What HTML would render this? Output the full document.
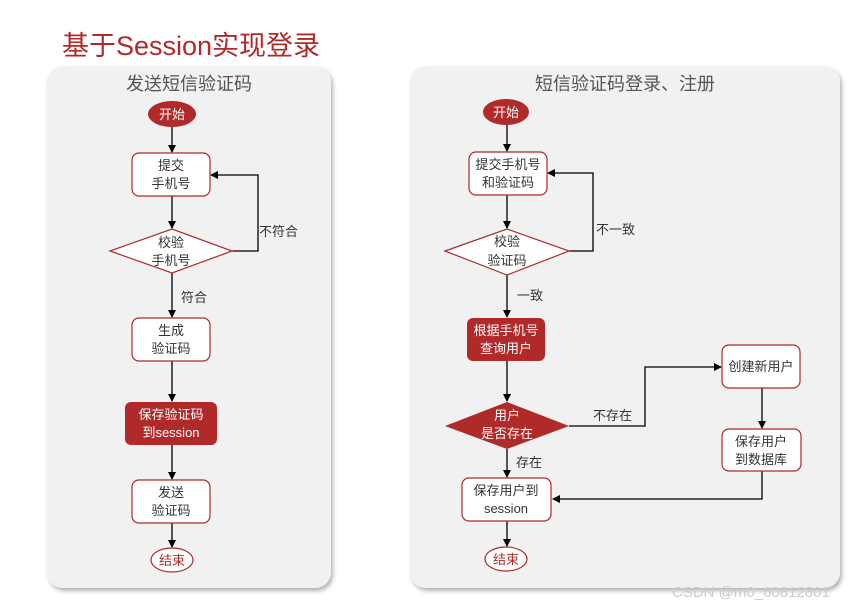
<!DOCTYPE html>
<html><head><meta charset="utf-8"><style>
html,body{margin:0;padding:0;background:#fff;width:852px;height:606px;overflow:hidden}
svg text{font-family:"Liberation Sans","Noto Sans CJK SC",sans-serif}
</style></head><body>
<svg width="852" height="606" viewBox="0 0 852 606" xmlns="http://www.w3.org/2000/svg">
<defs>
<marker id="a" markerWidth="8" markerHeight="8" refX="7" refY="4" orient="auto" markerUnits="userSpaceOnUse"><path d="M0,0 L8,4 L0,8 z" fill="#000"/></marker>
<filter id="sh" x="-5%" y="-5%" width="110%" height="110%"><feDropShadow dx="2" dy="3" stdDeviation="2" flood-color="#000" flood-opacity="0.3"/></filter>
</defs>
<text x="62" y="55" font-size="27" fill="#b02a2a">基于Session实现登录</text>
<rect x="47" y="66" width="284" height="522" rx="16" fill="#f1f1f1" filter="url(#sh)"/>
<rect x="410" y="66" width="430" height="522" rx="16" fill="#f1f1f1" filter="url(#sh)"/>
<g fill="#555" font-size="18" text-anchor="middle">
<text x="189" y="90">发送短信验证码</text>
<text x="625" y="90">短信验证码登录、注册</text>
</g>
<g stroke="#000" stroke-width="1.3" fill="none" marker-end="url(#a)">
<line x1="172" y1="127" x2="172" y2="152"/>
<line x1="172" y1="196" x2="172" y2="228"/>
<polyline points="232,251 258,251 258,175 211,175"/>
<line x1="172" y1="273" x2="172" y2="317"/>
<line x1="172" y1="361" x2="172" y2="401"/>
<line x1="172" y1="445" x2="172" y2="479"/>
<line x1="172" y1="523" x2="172" y2="547"/>
<line x1="507" y1="125" x2="507" y2="151"/>
<line x1="507" y1="195" x2="507" y2="228"/>
<polyline points="569,251 593,251 593,173 548,173"/>
<line x1="507" y1="275" x2="507" y2="317"/>
<line x1="507" y1="361" x2="507" y2="401"/>
<polyline points="569,426 645,426 645,367 721,367"/>
<line x1="762" y1="388" x2="762" y2="428"/>
<polyline points="762,471 762,499 553,499"/>
<line x1="507" y1="449" x2="507" y2="477"/>
<line x1="507" y1="521" x2="507" y2="546"/>
</g>
<g fill="#fff" stroke="#b02a2a" stroke-width="1.2">
<rect x="132" y="153" width="78" height="43" rx="7"/>
<polygon points="110,251 172,229 232,251 172,273"/>
<rect x="132" y="318" width="78" height="43" rx="7"/>
<rect x="132" y="480" width="78" height="43" rx="7"/>
<ellipse cx="172" cy="560" rx="21" ry="12"/>
<rect x="469" y="152" width="78" height="43" rx="7"/>
<polygon points="445,251 507,229 569,251 507,275"/>
<rect x="722" y="345" width="78" height="43" rx="7"/>
<rect x="722" y="429" width="79" height="42" rx="7"/>
<rect x="462" y="478" width="89" height="43" rx="7"/>
<ellipse cx="506" cy="559" rx="21" ry="12"/>
</g>
<g fill="#b02a2a">
<ellipse cx="172" cy="114" rx="24" ry="13"/>
<rect x="125" y="402" width="92" height="43" rx="6"/>
<ellipse cx="506" cy="112" rx="23" ry="13"/>
<rect x="467" y="318" width="78" height="43" rx="6"/>
<polygon points="445,426 507,402 569,426 507,449"/>
</g>
<g font-size="13" text-anchor="middle" fill="#fff">
<text x="172" y="119">开始</text>
<text x="171" y="419">保存验证码</text>
<text x="171" y="437" font-family="Liberation Mono,monospace">到session</text>
<text x="506" y="117">开始</text>
<text x="506" y="335">根据手机号</text>
<text x="506" y="353">查询用户</text>
<text x="507" y="420">用户</text>
<text x="507" y="438">是否存在</text>
</g>
<g font-size="13" text-anchor="middle" fill="#333">
<text x="171" y="170">提交</text><text x="171" y="188">手机号</text>
<text x="171" y="247">校验</text><text x="171" y="265">手机号</text>
<text x="171" y="335">生成</text><text x="171" y="353">验证码</text>
<text x="171" y="497">发送</text><text x="171" y="515">验证码</text>
<text x="508" y="169">提交手机号</text><text x="508" y="187">和验证码</text>
<text x="507" y="246">校验</text><text x="507" y="265">验证码</text>
<text x="761" y="371">创建新用户</text>
<text x="761" y="446">保存用户</text><text x="761" y="464">到数据库</text>
<text x="506" y="495">保存用户到</text>
<text x="506" y="513" font-family="Liberation Mono,monospace">session</text>
</g>
<g font-size="13" fill="#b02a2a" text-anchor="middle">
<text x="172" y="565">结束</text>
<text x="506" y="564">结束</text>
</g>
<g font-size="13" fill="#333">
<text x="259" y="236">不符合</text>
<text x="181" y="302">符合</text>
<text x="596" y="234">不一致</text>
<text x="517" y="300">一致</text>
<text x="593" y="420">不存在</text>
<text x="516" y="467">存在</text>
</g>
<text x="672" y="597" font-size="15" fill="#ccc">CSDN @m0_60812801</text>
</svg>
</body></html>
